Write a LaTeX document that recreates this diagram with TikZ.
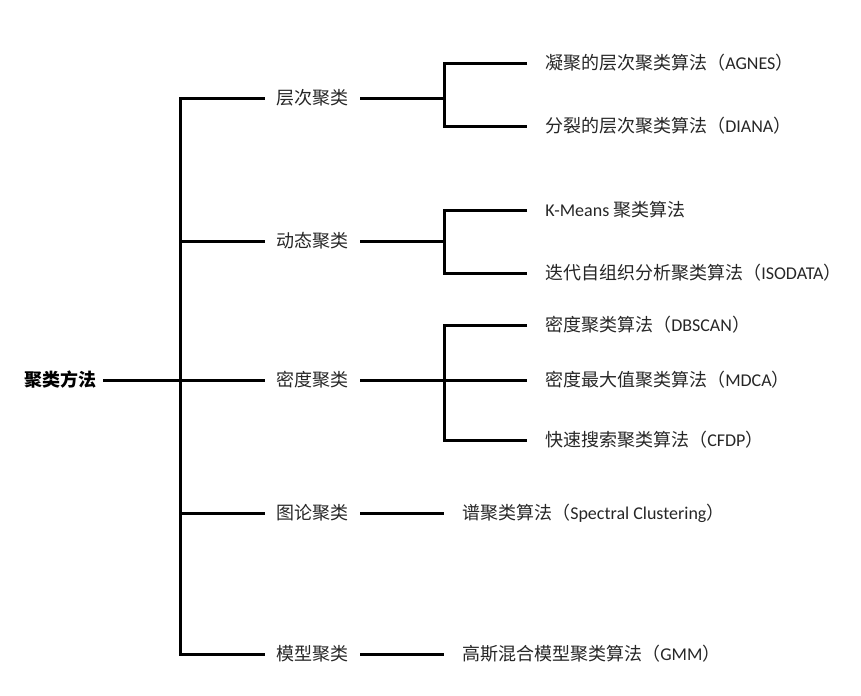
\documentclass[tikz,border=0pt]{standalone}
\usepackage{fontspec}
\setmainfont{Carlito}
\newfontfamily\cjk{Noto Sans CJK SC}
\usepackage{tikz}
\usetikzlibrary{positioning,calc}

\tikzset{
    branch/.style={line width=2.25pt, black, line join=miter},
    rootbox/.style={anchor=east, inner xsep=4.5pt, text=black, font=\fontsize{13.5}{16}\selectfont\cjk\bfseries},
    catbox/.style={inner xsep=8.6pt, text=black!85, font=\fontsize{13.5}{16}\selectfont\cjk},
    leafbox/.style={anchor=west, inner xsep=13.5pt, text=black!85, font=\fontsize{13.5}{16}\selectfont}
}

\begin{document}
\begin{tikzpicture}[x=0.75pt, y=-0.75pt]
    \useasboundingbox (0,0) rectangle (861,696);

    % Root
    \node[rootbox] (root) at (103,380) {聚类方法};
    \coordinate (trunk) at (180,380);

    % Level 1
    \node[catbox] (hier) at (312.5,98) {层次聚类};
    \node[catbox] (dyn) at (312.5,241) {动态聚类};
    \node[catbox] (dens) at (312.5,380) {密度聚类};
    \node[catbox] (graph) at (312.5,513) {图论聚类};
    \node[catbox] (model) at (312.5,654) {模型聚类};

    % Level 2
    \node[leafbox] (agnes) at (527,63) {{\cjk 凝聚的层次聚类算法（}AGNES{\cjk ）}};
    \node[leafbox] (diana) at (527,126) {{\cjk 分裂的层次聚类算法（}DIANA{\cjk ）}};
    \node[leafbox] (kmeans) at (527,210) {K-Means {\cjk 聚类算法}};
    \node[leafbox] (isodata) at (527,273) {{\cjk 迭代自组织分析聚类算法（}ISODATA{\cjk ）}};
    \node[leafbox] (dbscan) at (527,325) {{\cjk 密度聚类算法（}DBSCAN{\cjk ）}};
    \node[leafbox] (mdca) at (527,380) {{\cjk 密度最大值聚类算法（}MDCA{\cjk ）}};
    \node[leafbox] (cfdp) at (527,440) {{\cjk 快速搜索聚类算法（}CFDP{\cjk ）}};
    \node[leafbox] (spec) at (444,513) {{\cjk 谱聚类算法（}Spectral Clustering{\cjk ）}};
    \node[leafbox] (gmm) at (444,654) {{\cjk 高斯混合模型聚类算法（}GMM{\cjk ）}};

    \coordinate (jhier) at (444,98);
    \coordinate (jdyn) at (444,241);
    \coordinate (jdens) at (444,380);

    % Trunk
    \draw[branch] (hier.west) -| (trunk) |- (model.west);
    \draw[branch] (root.east) -- (dens.west);
    \draw[branch] (dyn.west -| trunk) -- (dyn.west);
    \draw[branch] (graph.west -| trunk) -- (graph.west);

    % Brackets
    \draw[branch] (hier.east) -- (jhier);
    \draw[branch] (agnes.west) -| (jhier) |- (diana.west);
    \draw[branch] (dyn.east) -- (jdyn);
    \draw[branch] (kmeans.west) -| (jdyn) |- (isodata.west);
    \draw[branch] (dens.east) -- (mdca.west);
    \draw[branch] (dbscan.west) -| (jdens) |- (cfdp.west);
    \draw[branch] (graph.east) -- (spec.west);
    \draw[branch] (model.east) -- (gmm.west);
\end{tikzpicture}
\end{document}
